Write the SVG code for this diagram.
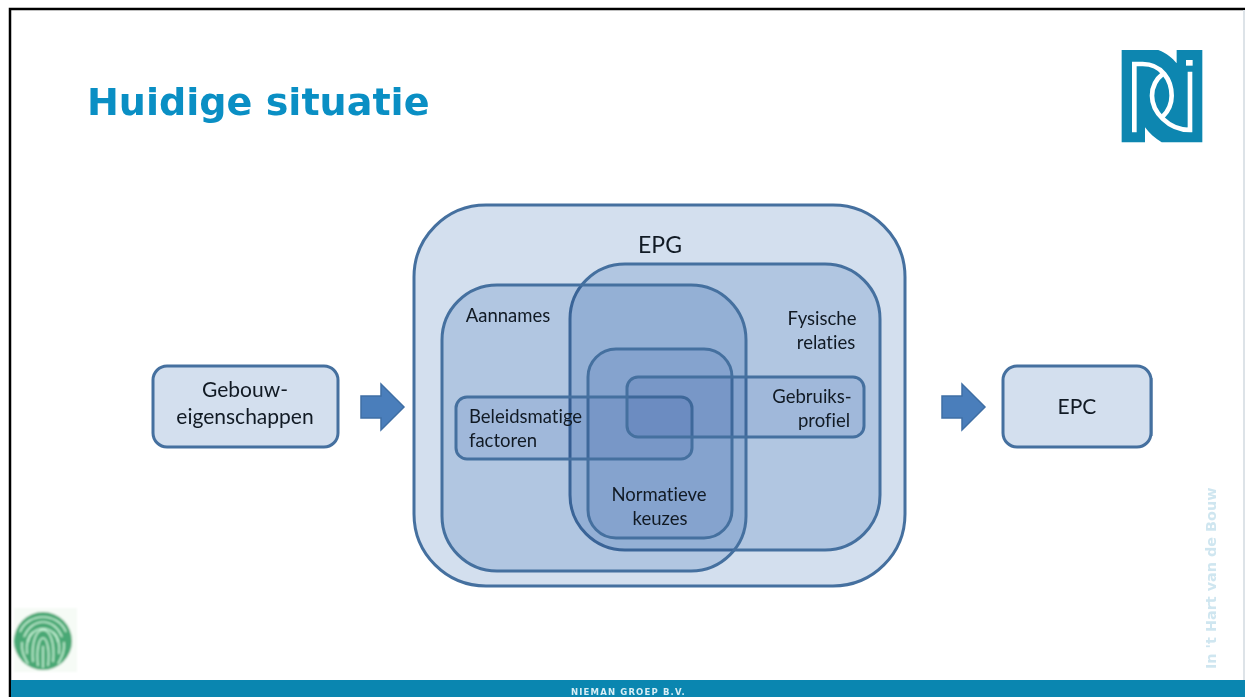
<svg xmlns="http://www.w3.org/2000/svg" width="1245" height="697" viewBox="0 0 1245 697">
<defs>
<filter id="s1" x="-10%" y="-10%" width="120%" height="120%"><feGaussianBlur stdDeviation=".5"/></filter>
<filter id="s2" x="-10%" y="-10%" width="120%" height="120%"><feGaussianBlur stdDeviation=".8"/></filter>
</defs>
<style>
.b{fill:#d6e3f2;mix-blend-mode:multiply}
.c{fill:#e6edf7;mix-blend-mode:multiply}
.e{fill:none;stroke:#45709f;stroke-width:3}
.o{stroke:#45709f;stroke-width:3;fill:#d3dfee}
.t{font-family:Lato,"Open Sans",sans-serif;font-size:18.500px;fill:#111a24;text-anchor:middle;font-variant-ligatures:none}
.l{font-size:21px}
.a{fill:#4a7ebb;stroke:#3f6fa5;stroke-width:1.5}
.w{fill:none;stroke:#fff;stroke-width:14}
.f{fill:none;stroke:#c4f0d4;stroke-width:1.700}
</style>
<rect width="1245" height="697" fill="#fff"/>
<path d="M10 697V9H1245" fill="none" stroke="#000" stroke-width="2.500"/>
<rect x="11" y="680" width="1234" height="17" fill="#0a86b0"/>
<text x="628.500" y="695" font-family="'DejaVu Sans',sans-serif" font-size="8.500" font-weight="bold" letter-spacing="1.150" fill="#d8eef5" text-anchor="middle">NIEMAN GROEP B.V.</text>
<text x="87" y="115" font-family="'DejaVu Sans',sans-serif" font-size="38.100" font-weight="bold" fill="#0a8fc4">Huidige situatie</text>
<text transform="translate(1216 669) rotate(-90)" font-family="'DejaVu Sans',sans-serif" font-size="14.400" font-weight="bold" fill="#cfe6f0" filter="url(#s1)">In 't Hart van de Bouw</text>
<rect x="1243" y="10" width="2" height="670" fill="#dde3e8"/>

<g id="logo" transform="translate(1100 30) scale(.3333)" filter="url(#s1)">
<path d="M65 60H175C200 70 218 85 230 100V60H307V337H185C165 325 148 310 135 292V337H65Z" fill="#0a86b0"/>
<path class="w" d="M103 307V102H128C185 102 215 150 215 197C215 222 205 243 188 260"/>
<path class="w" d="M190 130C167 148 156 172 156 197C156 245 205 300 270 300V125"/>
<rect x="258" y="90" width="20" height="17" fill="#fff"/>
</g>

<g id="fingerprint" filter="url(#s2)">
<rect x="14" y="608" width="63" height="64" fill="#f6fbf6"/>
<circle cx="43" cy="641" r="29" fill="#4aa874"/>
<path class="f" d="M20 632C28 612 58 612 66 632M24 637C32 617 54 617 62 637M28 642C32 624 54 624 58 642M33 662C31 640 37 630 43 630C50 630 55 642 53 662M38 666C36 650 39 638 43 638C47 638 50 650 48 666M43 646V668M22 642C21 652 25 658 28 664M64 642C65 652 61 658 58 664M27 654C26 644 28 636 33 632M59 654C60 644 58 636 53 632"/>
</g>

<g id="epg">
<rect class="o" x="414" y="205" width="491" height="381" rx="72"/>
<text class="t" x="660" y="253" style="font-size:23px">EPG</text>
</g>
<g id="fysische-relaties">
<rect class="b" x="570" y="264" width="310" height="286" rx="55"/>
<rect class="e" x="570" y="264" width="310" height="286" rx="55"/>
<text class="t" x="822" y="325">Fysische</text>
<text class="t" x="826" y="349">relaties</text>
</g>
<g id="aannames">
<rect class="b" x="442" y="285" width="304" height="286" rx="55"/>
<rect class="e" x="442" y="285" width="304" height="286" rx="55"/>
<text class="t" x="508" y="322">Aannames</text>
</g>
<g id="normatieve-keuzes">
<rect class="c" x="588" y="349" width="144" height="189" rx="28"/>
<rect class="e" x="588" y="349" width="144" height="189" rx="28"/>
<text class="t" x="659" y="501">Normatieve</text>
<text class="t" x="660" y="525">keuzes</text>
</g>
<g id="beleidsmatige-factoren">
<rect class="c" x="456" y="397" width="236" height="62" rx="11"/>
<rect class="e" x="456" y="397" width="236" height="62" rx="11"/>
<text class="t" x="469" y="423" style="text-anchor:start">Beleidsmatige</text>
<text class="t" x="469" y="447" style="text-anchor:start">factoren</text>
</g>
<g id="gebruiksprofiel">
<rect class="c" x="627" y="377" width="237" height="60" rx="11"/>
<rect class="e" x="627" y="377" width="237" height="60" rx="11"/>
<text class="t" x="812" y="403">Gebruiks-</text>
<text class="t" x="824" y="427">profiel</text>
</g>
<g id="gebouweigenschappen">
<rect class="o" x="153" y="366" width="185" height="81" rx="14"/>
<text class="t l" x="245" y="397">Gebouw-</text>
<text class="t l" x="245" y="424">eigenschappen</text>
</g>
<g id="epc">
<rect class="o" x="1003" y="366" width="148" height="81" rx="14"/>
<path d="M1151.500 378V436" stroke="#45709f" stroke-width="2"/>
<text class="t l" x="1077" y="414">EPC</text>
</g>
<g id="connectors">
<path class="a" d="M361 396H381V384L404 407L381 430V418H361Z"/>
<path class="a" d="M942 396H962V384L985 407L962 430V418H942Z"/>
</g>
</svg>
